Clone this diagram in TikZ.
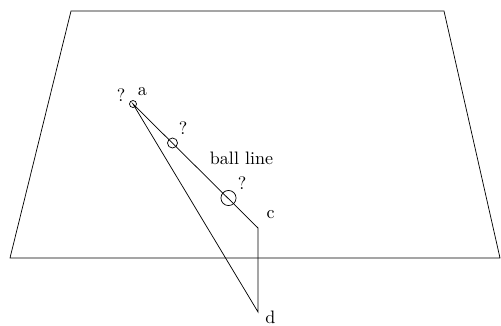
\documentclass[tikz,border=0pt]{standalone}
\begin{document}
\begin{tikzpicture}[x=0.555pt,y=-0.555pt,
  ball/.style={draw,circle,inner sep=0pt,line width=0.4pt},
  lbl/.style={inner sep=0pt,font=\normalsize}]
\useasboundingbox (0,0) rectangle (501,325);
% plane
\coordinate (p1) at (71,11);
\coordinate (p2) at (444,11);
\coordinate (p3) at (500,258);
\coordinate (p4) at (10,258);
\draw (p1) -- (p2) -- (p3) -- (p4) -- cycle;
% points
\coordinate (a) at (133,104);
\coordinate (c) at (258,228);
\coordinate (d) at (258,312);
\draw (a) -- (c) -- (d) -- cycle;
% balls
\node[ball,minimum size=3.9pt] (b1) at (a) {};
\node[ball,minimum size=5.6pt] (b2) at (172.5,143) {};
\node[ball,minimum size=8.4pt] (b3) at (228.5,198) {};
% labels
\node[lbl] (q1) at (121,95) {?};
\node[lbl] (la) at (142.5,92) {a};
\node[lbl] (q2) at (183,128) {?};
\node[lbl] (bl) at (241.5,158) {ball line};
\node[lbl] (q3) at (242,183) {?};
\node[lbl] (lc) at (270.5,215) {c};
\node[lbl] (ld) at (270.5,317.5) {d};
\end{tikzpicture}
\end{document}
